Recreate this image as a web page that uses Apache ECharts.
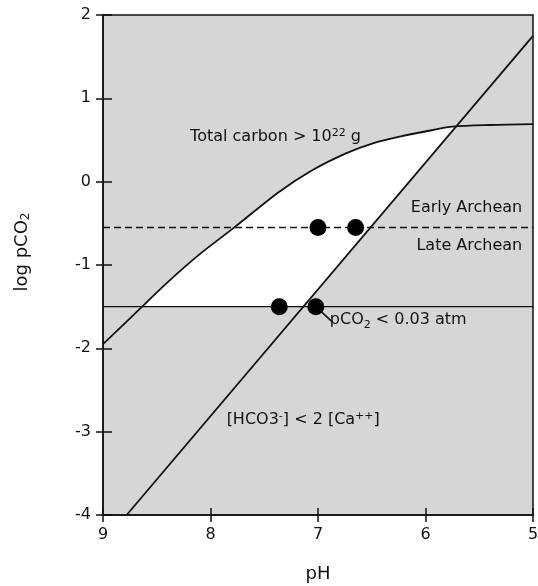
<!DOCTYPE html>
<html><head><meta charset="utf-8">
<script src="https://cdn.jsdelivr.net/npm/echarts@6/dist/echarts.min.js"></script>
<style>html,body{margin:0;padding:0;background:#fff}#c{width:538px;height:586px}</style>
</head><body><div id="c"></div>
<script>
// Axis ticks
var xTicks = [9, 8, 7, 6, 5];
var yTicks = [2, 1, 0, -1, -2, -3, -4];
// "Total carbon > 10^22 g" curve
var carbonPH  = [9.0, 8.66, 8.41, 8.10, 7.79, 7.36, 7.05, 6.74, 6.49, 6.24, 5.93, 5.75, 5.4, 5.0];
var carbonLog = [-1.95, -1.53, -1.22, -0.87, -0.56, -0.12, 0.14, 0.34, 0.46, 0.54, 0.62, 0.66, 0.68, 0.69];
// [HCO3-] < 2[Ca++] line
var hcoPH  = [8.78, 5.0];
var hcoLog = [-4.0, 1.75];
// pCO2 < 0.03 atm level and Early/Late Archean boundary
var pco2Level = -1.5;
var archeanLevel = -0.55;
// Dots
var dotPH  = [7.0, 6.65, 7.36, 7.02];
var dotLog = [-0.55, -0.55, -1.5, -1.5];

var carbonPts = carbonPH.map(function (p, i) { return [p, carbonLog[i]]; });
var hcoPts = hcoPH.map(function (p, i) { return [p, hcoLog[i]]; });
var dotPts = dotPH.map(function (p, i) { return [p, dotLog[i]]; });

function hcoAt(ph) {
  return hcoLog[0] + (hcoLog[1] - hcoLog[0]) * (ph - hcoPH[0]) / (hcoPH[1] - hcoPH[0]);
}
function hcoPHAt(v) {
  return hcoPH[0] + (hcoPH[1] - hcoPH[0]) * (v - hcoLog[0]) / (hcoLog[1] - hcoLog[0]);
}
// White (allowed) region: above pCO2 level, below carbon curve, left of HCO3 line
var poly = [];
(function () {
  var started = false;
  for (var i = 0; i < carbonPts.length - 1; i++) {
    var a = carbonPts[i], b = carbonPts[i + 1];
    if (!started) {
      if (a[1] <= pco2Level && b[1] >= pco2Level) {
        var t = (pco2Level - a[1]) / (b[1] - a[1]);
        poly.push([a[0] + t * (b[0] - a[0]), pco2Level]);
        started = true;
      } else continue;
    } else {
      poly.push(a);
    }
    var da = a[1] - hcoAt(a[0]), db = b[1] - hcoAt(b[0]);
    if (da >= 0 && db <= 0) {
      var s = da / (da - db);
      poly.push([a[0] + s * (b[0] - a[0]), a[1] + s * (b[1] - a[1])]);
      break;
    }
  }
  poly.push([hcoPHAt(pco2Level), pco2Level]);
})();

var font = 'DejaVu Sans';
var ink = '#111';
var chart = echarts.init(document.getElementById('c'), null, {renderer: 'canvas'});
function axisX(idx, inside) {
  return {
    type: 'value', min: 5, max: 9, interval: 1, inverse: true, position: 'bottom',
    name: idx === 0 ? 'pH' : '', nameLocation: 'middle', nameGap: 50,
    nameTextStyle: {fontFamily: font, fontSize: 18, color: ink},
    axisLine: {show: idx === 0, onZero: false, lineStyle: {color: ink, width: 1.5}},
    axisTick: {show: true, inside: inside, length: 7, lineStyle: {color: ink, width: 1.5}},
    axisLabel: {show: idx === 0, fontFamily: font, fontSize: 16, color: ink, margin: 12},
    splitLine: {show: false}
  };
}
function axisY(idx, inside) {
  return {
    type: 'value', min: -4, max: 2, interval: 1, position: 'left',
    name: idx === 0 ? 'log pCO{sub|2}' : '', nameLocation: 'middle', nameGap: 71, nameRotate: 90,
    nameTextStyle: {fontFamily: font, fontSize: 18, color: ink, padding: [0, 0, 0, 26],
      rich: {sub: {fontFamily: font, fontSize: 12, color: ink, verticalAlign: 'bottom', padding: [8, 0, 0, 0]}}},
    axisLine: {show: idx === 0, onZero: false, lineStyle: {color: ink, width: 1.5}},
    axisTick: {show: true, inside: inside, length: idx === 0 ? 7 : 9, lineStyle: {color: ink, width: 1.5}},
    axisLabel: {show: idx === 0, fontFamily: font, fontSize: 16, color: ink, margin: 12},
    splitLine: {show: false}
  };
}
var supRich = {sup: {fontFamily: font, fontSize: 11, color: ink, verticalAlign: 'top', padding: [0, 0, 8, 0]},
               sub: {fontFamily: font, fontSize: 11, color: ink, verticalAlign: 'bottom', padding: [10, 0, 0, 0]}};
function textPoint(coord, text, align) {
  return {
    type: 'scatter', data: [coord], symbolSize: 1, silent: true, z: 6,
    itemStyle: {opacity: 0},
    label: {show: true, position: 'inside', formatter: text, align: align, verticalAlign: 'middle',
      fontFamily: font, fontSize: 16, color: ink, opacity: 1, rich: supRich}
  };
}
chart.setOption({
  animation: false,
  grid: {left: 103, right: 5, top: 15, bottom: 71, show: true, backgroundColor: '#d6d6d6',
         borderColor: ink, borderWidth: 1.5, containLabel: false, outerBoundsMode: 'none'},
  xAxis: [axisX(0, false), axisX(1, true)],
  yAxis: [axisY(0, false), axisY(1, true)],
  series: [
    {type: 'custom', z: 1, silent: true, data: [[7, 0]], clip: true,
      renderItem: function (params, api) {
        return {type: 'polygon', shape: {points: poly.map(function (p) { return api.coord(p); })},
                style: {fill: '#ffffff'}};
      }},
    {type: 'line', data: carbonPts, showSymbol: false, symbol: 'none', z: 3, clip: true, smooth: 0.3,
      lineStyle: {color: ink, width: 1.8}},
    {type: 'line', data: hcoPts, showSymbol: false, symbol: 'none', z: 3, clip: true,
      lineStyle: {color: ink, width: 1.8}},
    {type: 'line', data: [[9, pco2Level], [5, pco2Level]], symbol: 'none', z: 3,
      lineStyle: {color: ink, width: 1.3}},
    {type: 'line', data: [[9, archeanLevel], [5, archeanLevel]], symbol: 'none', z: 3,
      lineStyle: {color: ink, width: 1.5, type: [7, 4]}},
    {type: 'line', data: [[7.02, -1.5], [6.87, -1.68]], symbol: 'none', z: 3,
      lineStyle: {color: ink, width: 1.5}},
    {type: 'scatter', data: dotPts, symbol: 'circle', symbolSize: 17, z: 5,
      itemStyle: {color: '#000', opacity: 1}},
    textPoint([8.19, 0.54], 'Total carbon > 10{sup|22} g', 'left'),
    textPoint([5.10, -0.32], 'Early Archean', 'right'),
    textPoint([5.10, -0.77], 'Late Archean', 'right'),
    textPoint([6.89, -1.66], 'pCO{sub|2} < 0.03 atm', 'left'),
    textPoint([7.85, -2.86], '[HCO3{sup|-}] < 2 [Ca{sup|++}]', 'left')
  ]
});
</script></body></html>
